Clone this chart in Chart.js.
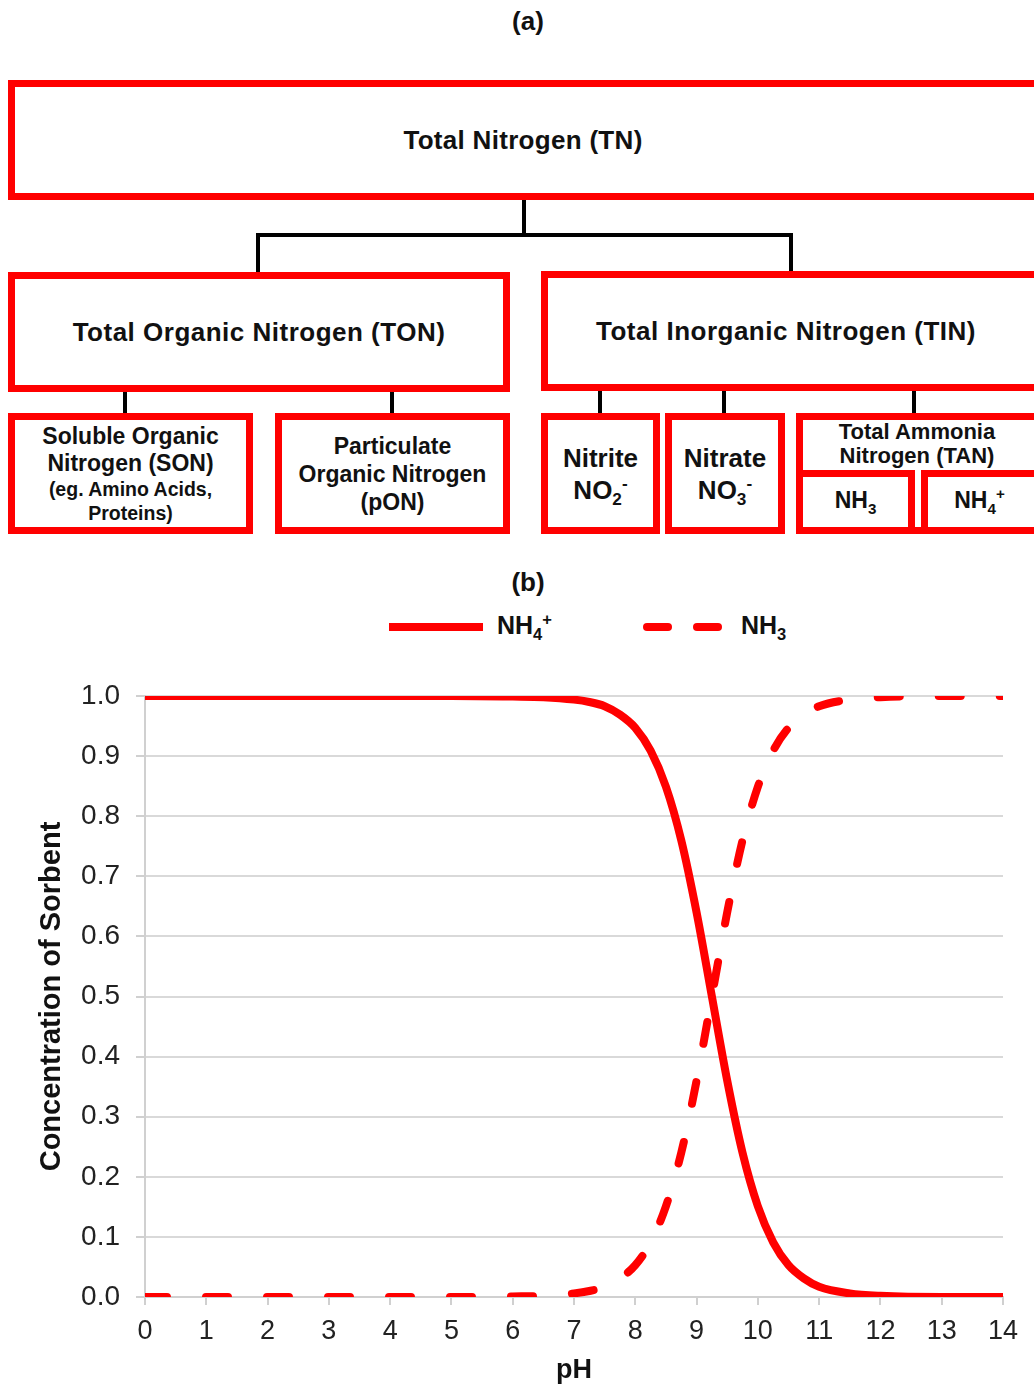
<!DOCTYPE html>
<html>
<head>
<meta charset="utf-8">
<script src="https://cdn.jsdelivr.net/npm/chart.js@4/dist/chart.umd.min.js"></script>
<style>
  html, body { margin: 0; padding: 0; background: #fff; }
  body { width: 1034px; height: 1389px; position: relative; overflow: hidden;
         font-family: "Liberation Sans", Arial, sans-serif; color: #111; }
  .lbl { position: absolute; font-weight: bold; text-align: center; }
  .box { position: absolute; box-sizing: border-box; border: 7px solid #ff0000; background: #fff;
         display: flex; flex-direction: column; align-items: center; justify-content: center;
         font-weight: bold; text-align: center; }
  .ln { position: absolute; background: #000; }
  sub, sup { font-size: 0.66em; line-height: 0; }
  #legend div { position: absolute; }
  .dash { background: #ff0000; height: 7px; border-radius: 4px; }
  #chartWrap { position: absolute; left: 0; top: 650px; width: 1034px; height: 739px; }
</style>
</head>
<body>

<div class="lbl" style="left:0;width:1056px;top:6px;font-size:26px;">(a)</div>

<!-- verbindingslijnen -->
<div class="ln" style="left:522px;top:198px;width:4px;height:39px;"></div>
<div class="ln" style="left:256px;top:233px;width:537px;height:4px;"></div>
<div class="ln" style="left:256px;top:233px;width:4px;height:41px;"></div>
<div class="ln" style="left:789px;top:233px;width:4px;height:41px;"></div>
<div class="ln" style="left:123px;top:390px;width:4px;height:25px;"></div>
<div class="ln" style="left:390px;top:390px;width:4px;height:25px;"></div>
<div class="ln" style="left:598px;top:389px;width:4px;height:26px;"></div>
<div class="ln" style="left:722px;top:389px;width:4px;height:26px;"></div>
<div class="ln" style="left:912px;top:389px;width:4px;height:26px;"></div>

<div class="box" style="left:8px;top:80px;width:1040px;height:120px;font-size:26px;padding-right:6px;">
  <div style="margin-left:-4px;letter-spacing:0.3px;">Total Nitrogen (TN)</div>
</div>

<div class="box" style="left:8px;top:272px;width:502px;height:120px;font-size:26px;letter-spacing:0.5px;">Total Organic Nitrogen (TON)</div>
<div class="box" style="left:541px;top:271px;width:510px;height:120px;font-size:26px;letter-spacing:0.5px;">
  <div style="margin-left:-20px;">Total Inorganic Nitrogen (TIN)</div>
</div>

<div class="box" style="left:8px;top:413px;width:245px;height:121px;">
  <div style="font-size:23px;line-height:28px;">Soluble Organic</div>
  <div style="font-size:23px;line-height:27px;">Nitrogen (SON)</div>
  <div style="font-size:19.5px;line-height:25px;">(eg. Amino Acids,</div>
  <div style="font-size:19.5px;line-height:23px;">Proteins)</div>
</div>
<div class="box" style="left:275px;top:413px;width:235px;height:121px;">
  <div style="font-size:23px;line-height:28px;">Particulate</div>
  <div style="font-size:23px;line-height:28px;">Organic Nitrogen</div>
  <div style="font-size:23px;line-height:28px;">(pON)</div>
</div>
<div class="box" style="left:541px;top:413px;width:119px;height:121px;">
  <div style="font-size:26px;line-height:32px;">Nitrite</div>
  <div style="font-size:26px;line-height:32px;">NO<sub>2</sub><sup>-</sup></div>
</div>
<div class="box" style="left:665px;top:413px;width:120px;height:121px;">
  <div style="font-size:26px;line-height:32px;">Nitrate</div>
  <div style="font-size:26px;line-height:32px;">NO<sub>3</sub><sup>-</sup></div>
</div>
<div class="box" style="left:796px;top:413px;width:260px;height:121px;justify-content:flex-start;">
  <div style="font-size:22px;line-height:24px;margin-top:0px;margin-left:-18px;">Total Ammonia</div>
  <div style="font-size:22px;line-height:24px;margin-left:-18px;">Nitrogen (TAN)</div>
</div>
<div class="box" style="left:796px;top:470px;width:119px;height:64px;font-size:23px;">
  <div style="margin-top:-4px;">NH<sub>3</sub></div>
</div>
<div class="box" style="left:921px;top:470px;width:135px;height:64px;font-size:23px;">
  <div style="margin-top:-4px;margin-left:-18px;">NH<sub>4</sub><sup>+</sup></div>
</div>

<div class="lbl" style="left:0;width:1056px;top:567px;font-size:26px;">(b)</div>

<div id="legend">
  <div style="left:389px;top:623px;width:94px;height:8px;background:#ff0000;"></div>
  <div class="lbl" style="left:497px;top:611px;font-size:25px;">NH<sub>4</sub><sup>+</sup></div>
  <div class="dash" style="left:643px;top:623px;width:29px;height:8px;"></div>
  <div class="dash" style="left:693px;top:623px;width:29px;height:8px;"></div>
  <div class="lbl" style="left:741px;top:611px;font-size:25px;">NH<sub>3</sub></div>
</div>

<div id="chartWrap"><canvas id="phChart" width="1034" height="739"></canvas></div>

<script>
const phValues = [0, 1, 2, 3, 4, 5, 6, 6.5, 7, 7.25, 7.5, 7.75, 8, 8.25, 8.5, 8.75, 9, 9.25,
                  9.5, 9.75, 10, 10.25, 10.5, 10.75, 11, 11.5, 12, 13, 14];
const nh4Values = [1, 1, 1, 1, 1, 1, 0.999, 0.998, 0.994, 0.99, 0.983, 0.969, 0.947, 0.909, 0.849, 0.76, 0.64, 0.5,
                   0.36, 0.24, 0.151, 0.091, 0.053, 0.031, 0.017, 0.006, 0.002, 0, 0];
const nh3Values = [0, 0, 0, 0, 0, 0, 0.001, 0.002, 0.006, 0.01, 0.017, 0.031, 0.053, 0.091, 0.151, 0.24, 0.36, 0.5,
                   0.64, 0.76, 0.849, 0.909, 0.947, 0.969, 0.983, 0.994, 0.998, 1, 1];
const seriesNames = ['NH4+', 'NH3'];
const yTickValues = [0, 0.1, 0.2, 0.3, 0.4, 0.5, 0.6, 0.7, 0.8, 0.9, 1.0];

function maakPunten(ys) {
    return phValues.map((x, i) => ({ x: x, y: ys[i] }));
}

var ctx = document.getElementById('phChart').getContext('2d');
var phChart = new Chart(ctx, {
    type: 'line',
    data: {
        datasets: [{
            label: seriesNames[0],
            data: maakPunten(nh4Values),
            borderColor: '#ff0000',
            borderWidth: 8,
            pointRadius: 0,
            cubicInterpolationMode: 'monotone',
            fill: false
        }, {
            label: seriesNames[1],
            data: maakPunten(nh3Values),
            borderColor: '#ff0000',
            borderWidth: 8,
            borderDash: [22, 39],
            borderCapStyle: 'round',
            pointRadius: 0,
            cubicInterpolationMode: 'monotone',
            fill: false
        }]
    },
    options: {
        responsive: false,
        animation: false,
        layout: { padding: { left: 0, right: 31, top: 46, bottom: 0 } },
        plugins: {
            legend: { display: false },
            tooltip: { enabled: false }
        },
        scales: {
            x: {
                type: 'linear',
                min: 0,
                max: 14,
                grid: { drawOnChartArea: false, drawTicks: true, tickLength: 8, color: '#d0d0d0', lineWidth: 2 },
                border: { display: true, color: '#d0d0d0', width: 2 },
                ticks: {
                    stepSize: 1,
                    padding: 10,
                    color: '#222',
                    font: { family: 'Liberation Sans', size: 27 }
                },
                title: {
                    display: true,
                    text: 'pH',
                    color: '#111',
                    padding: { top: 0, bottom: 2 },
                    font: { family: 'Liberation Sans', size: 27, weight: 'bold' }
                },
                afterFit: function (s) { s.height = 92; }
            },
            y: {
                min: 0,
                max: 1,
                afterBuildTicks: function (s) { s.ticks = yTickValues.map(v => ({ value: v })); },
                grid: { color: '#d9d9d9', lineWidth: 2, tickLength: 9, tickColor: '#d0d0d0' },
                border: { display: true, color: '#d0d0d0', width: 2 },
                ticks: {
                    padding: 16,
                    color: '#222',
                    font: { family: 'Liberation Sans', size: 28 },
                    callback: function (v) { return Number(v).toFixed(1); }
                },
                title: {
                    display: true,
                    text: 'Concentration of Sorbent',
                    color: '#111',
                    padding: { top: 35, bottom: 0 },
                    font: { family: 'Liberation Sans', size: 29, weight: 'bold' }
                },
                afterFit: function (s) { s.width = 145; }
            }
        }
    }
});
</script>
</body>
</html>
